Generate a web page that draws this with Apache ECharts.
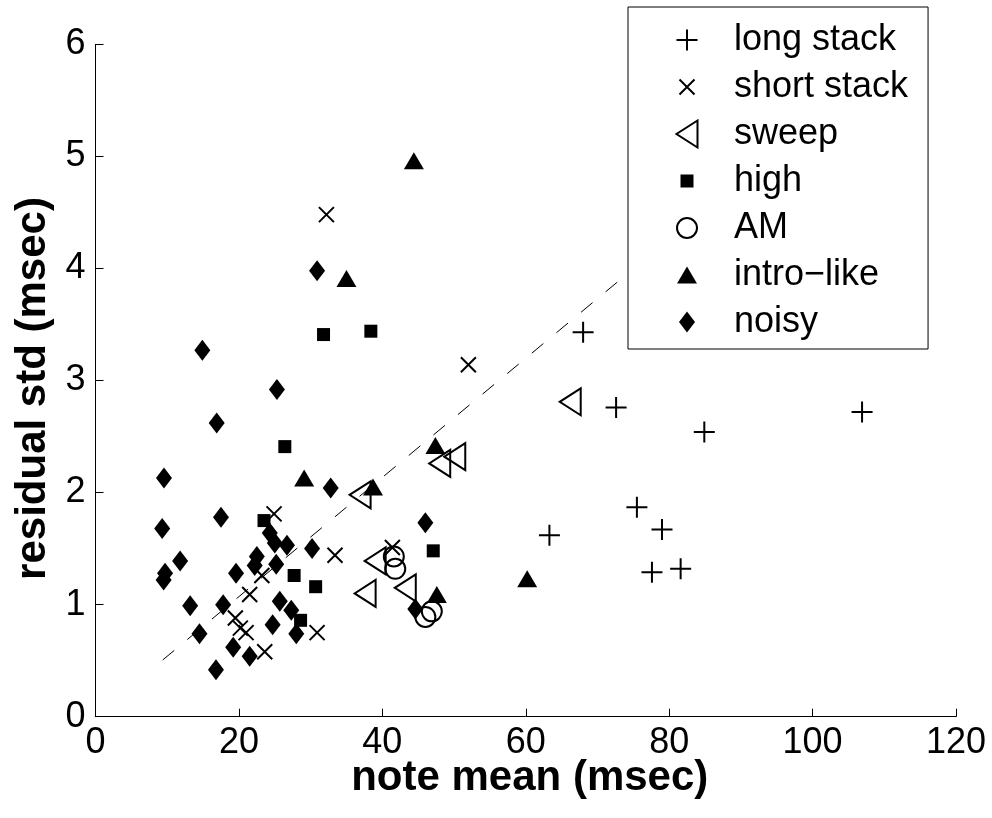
<!DOCTYPE html>
<html>
<head>
<meta charset="utf-8">
<script src="https://cdn.jsdelivr.net/npm/echarts@6/dist/echarts.min.js"></script>
<style>
  html, body { margin: 0; padding: 0; background: #fff; }
  #chart { width: 992px; height: 818px; }
</style>
</head>
<body>
<div id="chart"></div>
<script>
// ---- data (x: note mean msec, y: residual std msec) ----
const seriesNames = ['long stack', 'short stack', 'sweep', 'high', 'AM', 'intro\u2212like', 'noisy'];

const longStack = [
  [68.0, 3.43], [72.6, 2.76], [84.9, 2.54], [106.9, 2.72], [75.5, 1.87],
  [79.0, 1.67], [77.6, 1.29], [81.6, 1.32], [63.3, 1.62]
];
const shortStack = [
  [32.2, 4.48], [52.0, 3.14], [24.9, 1.81], [33.4, 1.44], [23.2, 1.26],
  [21.5, 1.09], [19.5, 0.88], [20.2, 0.79], [21.0, 0.75], [23.6, 0.58],
  [30.9, 0.75], [41.4, 1.51]
];
const sweep = [
  [66.2, 2.81], [36.9, 1.98], [48.0, 2.26], [50.1, 2.32], [39.0, 1.39],
  [37.6, 1.10], [43.2, 1.15]
];
const high = [
  [31.8, 3.41], [38.4, 3.44], [26.4, 2.41], [23.5, 1.75], [27.7, 1.26],
  [30.7, 1.16], [28.6, 0.86], [47.1, 1.48]
];
const am = [
  [41.6, 1.43], [41.8, 1.32], [46.9, 0.94], [46.0, 0.89]
];
const introLike = [
  [44.4, 4.96], [35.0, 3.91], [29.1, 2.13], [38.7, 2.05], [47.4, 2.42],
  [47.6, 1.09], [60.2, 1.23]
];
const noisy = [
  [14.9, 3.27], [30.9, 3.98], [25.3, 2.92], [16.9, 2.62], [9.55, 2.13],
  [32.8, 2.04], [17.5, 1.78], [9.3, 1.68], [24.3, 1.64], [25.0, 1.55],
  [26.7, 1.53], [30.2, 1.50], [22.5, 1.43], [22.2, 1.35], [25.2, 1.36],
  [11.8, 1.39], [9.7, 1.28], [9.5, 1.22], [19.6, 1.28], [13.2, 0.99],
  [17.8, 1.00], [25.7, 1.03], [27.3, 0.95], [24.7, 0.82], [28.0, 0.74],
  [14.5, 0.74], [19.2, 0.62], [21.5, 0.54], [16.8, 0.42], [46.0, 1.73],
  [44.6, 0.96]
];
// dashed fit line end points
const fitLine = [[9.37, 0.506], [76.0, 4.05]];

const xTicks = { min: 0, max: 120, interval: 20 };
const yTicks = { min: 0, max: 6, interval: 1 };

// ---- symbol shapes (padded to a common 28x28 box) ----
const PAD = 'M-14,-14 M14,14 ';
const shapes = {
  plus: 'path://' + PAD + 'M-10.5,0 L10.5,0 M0,-10.5 L0,10.5',
  cross: 'path://' + PAD + 'M-7.5,-7.5 L7.5,7.5 M-7.5,7.5 L7.5,-7.5',
  leftTri: 'path://' + PAD + 'M10.5,-13.5 L-10.5,0 L10.5,13.5 Z',
  square: 'path://' + PAD + 'M-6.5,-6.5 L6.5,-6.5 L6.5,6.5 L-6.5,6.5 Z',
  circle: 'path://' + PAD + 'M-10,0 A10,10 0 1,0 10,0 A10,10 0 1,0 -10,0 Z',
  triangle: 'path://' + PAD + 'M0,-8.5 L10,8.5 L-10,8.5 Z',
  diamond: 'path://' + PAD + 'M0,-10.5 L8,0 L0,10.5 L-8,0 Z'
};
const strokeStyle = { color: 'transparent', borderColor: '#000', borderWidth: 2, opacity: 1 };
const fillStyle = { color: '#000', borderWidth: 0, opacity: 1 };

const defs = [
  { name: seriesNames[0], data: longStack, symbol: shapes.plus, style: strokeStyle },
  { name: seriesNames[1], data: shortStack, symbol: shapes.cross, style: strokeStyle },
  { name: seriesNames[2], data: sweep, symbol: shapes.leftTri, style: strokeStyle },
  { name: seriesNames[3], data: high, symbol: shapes.square, style: fillStyle },
  { name: seriesNames[4], data: am, symbol: shapes.circle, style: strokeStyle },
  { name: seriesNames[5], data: introLike, symbol: shapes.triangle, style: fillStyle },
  { name: seriesNames[6], data: noisy, symbol: shapes.diamond, style: fillStyle }
];

const FONT = "'Liberation Sans', Arial, Helvetica, sans-serif";

const series = [{
  type: 'line',
  data: fitLine,
  symbol: 'none',
  silent: true,
  lineStyle: { color: '#000', width: 1, type: [15, 17], opacity: 1 },
  z: 1
}].concat(defs.map(d => ({
  type: 'scatter',
  name: d.name,
  data: d.data,
  symbol: d.symbol,
  symbolSize: 28,
  symbolKeepAspect: true,
  itemStyle: Object.assign({}, d.style),
  emphasis: { disabled: true },
  z: 3
})));

const chart = echarts.init(document.getElementById('chart'), null, { renderer: 'canvas' });
chart.setOption({
  animation: false,
  backgroundColor: '#fff',
  textStyle: { fontFamily: FONT },
  grid: { left: 95.5, right: 36, top: 44.3, bottom: 101.3, containLabel: false },
  xAxis: {
    type: 'value',
    min: xTicks.min, max: xTicks.max, interval: xTicks.interval,
    name: 'note mean (msec)',
    nameLocation: 'middle',
    nameGap: 41,
    nameMoveOverlap: false,
    nameTextStyle: { fontFamily: FONT, fontSize: 42, fontWeight: 'bold', color: '#000', padding: [0, 0, 0, 8] },
    axisLine: { show: true, onZero: false, lineStyle: { color: '#000', width: 1 } },
    axisTick: { show: true, inside: true, length: 8, lineStyle: { color: '#000', width: 1 } },
    axisLabel: { fontFamily: FONT, fontSize: 36, color: '#000', margin: 8 },
    splitLine: { show: false }
  },
  yAxis: {
    type: 'value',
    min: yTicks.min, max: yTicks.max, interval: yTicks.interval,
    name: 'residual std (msec)',
    nameLocation: 'middle',
    nameGap: 40,
    nameTextStyle: { fontFamily: FONT, fontSize: 42, fontWeight: 'bold', color: '#000', padding: [0, 16, 0, 0] },
    axisLine: { show: true, onZero: false, lineStyle: { color: '#000', width: 1 } },
    axisTick: { show: true, inside: true, length: 8, lineStyle: { color: '#000', width: 1 } },
    axisLabel: { fontFamily: FONT, fontSize: 36, color: '#000', margin: 10 },
    splitLine: { show: false }
  },
  legend: {
    orient: 'vertical',
    left: 628,
    top: 7,
    padding: [15, 20, 9, 44],
    itemWidth: 84,
    itemHeight: 28,
    itemGap: 11,
    backgroundColor: '#fff',
    borderColor: '#000',
    borderWidth: 1,
    selectedMode: false,
    textStyle: { fontFamily: FONT, fontSize: 36, color: '#000' },
    data: defs.map(d => ({
      name: d.name,
      icon: d.symbol,
      itemStyle: Object.assign({}, d.style)
    })),
    z: 10
  },
  series: series
});
</script>
</body>
</html>
